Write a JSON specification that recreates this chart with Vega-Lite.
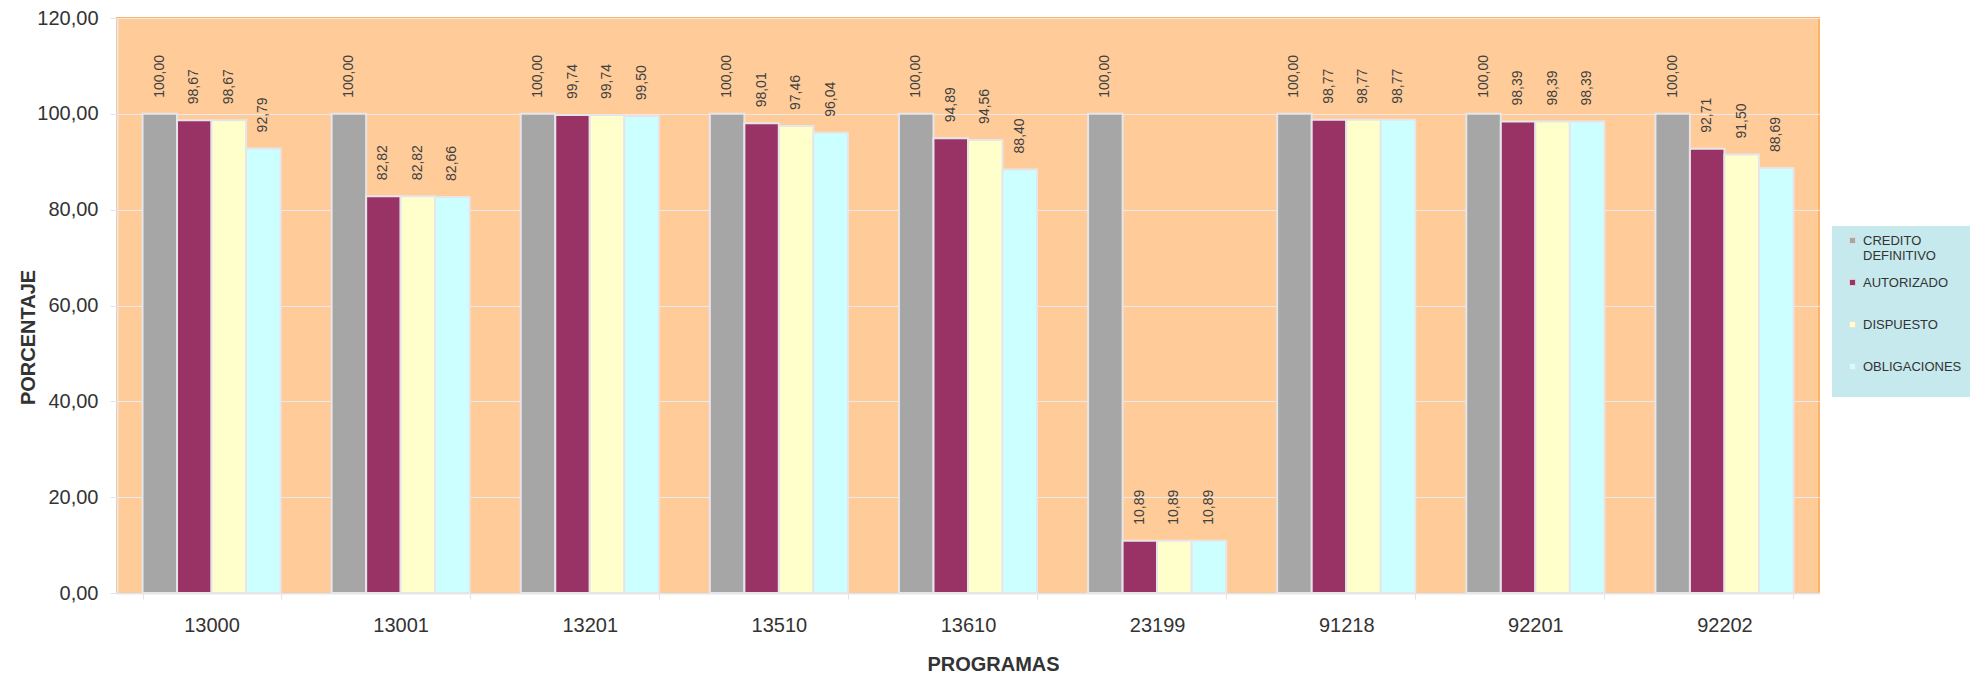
{
  "$schema": "https://vega.github.io/schema/vega-lite/v6.json",
  "width": 1702,
  "height": 575,
  "autosize": {"type": "none"},
  "padding": {"left": 117, "top": 18, "right": 167, "bottom": 89},
  "background": "white",
  "config": {
    "locale": {"number": {"decimal": ",", "thousands": ".", "grouping": [3], "currency": ["", " €"]}},
    "font": "Liberation Sans",
    "view": {"fill": "#ffcc99", "stroke": "#ffb366", "strokeWidth": 2}
  },
  "data": {
    "values": [
      {"programa": "13000", "serie": "CREDITO DEFINITIVO", "valor": 100.00},
      {"programa": "13000", "serie": "AUTORIZADO", "valor": 98.67},
      {"programa": "13000", "serie": "DISPUESTO", "valor": 98.67},
      {"programa": "13000", "serie": "OBLIGACIONES", "valor": 92.79},
      {"programa": "13001", "serie": "CREDITO DEFINITIVO", "valor": 100.00},
      {"programa": "13001", "serie": "AUTORIZADO", "valor": 82.82},
      {"programa": "13001", "serie": "DISPUESTO", "valor": 82.82},
      {"programa": "13001", "serie": "OBLIGACIONES", "valor": 82.66},
      {"programa": "13201", "serie": "CREDITO DEFINITIVO", "valor": 100.00},
      {"programa": "13201", "serie": "AUTORIZADO", "valor": 99.74},
      {"programa": "13201", "serie": "DISPUESTO", "valor": 99.74},
      {"programa": "13201", "serie": "OBLIGACIONES", "valor": 99.50},
      {"programa": "13510", "serie": "CREDITO DEFINITIVO", "valor": 100.00},
      {"programa": "13510", "serie": "AUTORIZADO", "valor": 98.01},
      {"programa": "13510", "serie": "DISPUESTO", "valor": 97.46},
      {"programa": "13510", "serie": "OBLIGACIONES", "valor": 96.04},
      {"programa": "13610", "serie": "CREDITO DEFINITIVO", "valor": 100.00},
      {"programa": "13610", "serie": "AUTORIZADO", "valor": 94.89},
      {"programa": "13610", "serie": "DISPUESTO", "valor": 94.56},
      {"programa": "13610", "serie": "OBLIGACIONES", "valor": 88.40},
      {"programa": "23199", "serie": "CREDITO DEFINITIVO", "valor": 100.00},
      {"programa": "23199", "serie": "AUTORIZADO", "valor": 10.89},
      {"programa": "23199", "serie": "DISPUESTO", "valor": 10.89},
      {"programa": "23199", "serie": "OBLIGACIONES", "valor": 10.89},
      {"programa": "91218", "serie": "CREDITO DEFINITIVO", "valor": 100.00},
      {"programa": "91218", "serie": "AUTORIZADO", "valor": 98.77},
      {"programa": "91218", "serie": "DISPUESTO", "valor": 98.77},
      {"programa": "91218", "serie": "OBLIGACIONES", "valor": 98.77},
      {"programa": "92201", "serie": "CREDITO DEFINITIVO", "valor": 100.00},
      {"programa": "92201", "serie": "AUTORIZADO", "valor": 98.39},
      {"programa": "92201", "serie": "DISPUESTO", "valor": 98.39},
      {"programa": "92201", "serie": "OBLIGACIONES", "valor": 98.39},
      {"programa": "92202", "serie": "CREDITO DEFINITIVO", "valor": 100.00},
      {"programa": "92202", "serie": "AUTORIZADO", "valor": 92.71},
      {"programa": "92202", "serie": "DISPUESTO", "valor": 91.50},
      {"programa": "92202", "serie": "OBLIGACIONES", "valor": 88.69}
    ]
  },
  "encoding": {
    "x": {
      "field": "programa",
      "type": "nominal",
      "sort": null,
      "scale": {"paddingInner": 0.27, "paddingOuter": 0.135},
      "axis": {
        "title": "PROGRAMAS",
        "labelAngle": 0,
        "labelFontSize": 20,
        "labelColor": "#333333",
        "labelPadding": 16,
        "tickBand": "extent",
        "tickSize": 6,
        "tickColor": "#e3e3e3",
        "domainColor": "#e6e6e6",
        "domainWidth": 2,
        "grid": false,
        "titleFontSize": 20,
        "titleFontWeight": "bold",
        "titleColor": "#333333",
        "titleX": 876,
        "titleY": 71,
        "titleBaseline": "middle"
      }
    },
    "xOffset": {
      "field": "serie",
      "type": "nominal",
      "sort": ["CREDITO DEFINITIVO", "AUTORIZADO", "DISPUESTO", "OBLIGACIONES"],
      "scale": {"paddingInner": 0, "paddingOuter": 0}
    },
    "y": {
      "field": "valor",
      "type": "quantitative",
      "scale": {"domain": [0, 120], "nice": false},
      "axis": {
        "title": "PORCENTAJE",
        "values": [0, 20, 40, 60, 80, 100, 120],
        "format": ".2f",
        "labelFontSize": 20,
        "labelColor": "#333333",
        "labelPadding": 12,
        "tickSize": 7,
        "tickColor": "#e3e3ea",
        "domainColor": "#e6e6ea",
        "domainWidth": 2,
        "gridColor": "#ebe9f0",
        "gridWidth": 1,
        "titleFontSize": 20,
        "titleFontWeight": "bold",
        "titleColor": "#333333",
        "titleX": -89,
        "titleY": 319,
        "titleBaseline": "middle"
      }
    }
  },
  "layer": [
    {
      "mark": {"type": "bar", "stroke": "#e6e6ea", "strokeWidth": 2},
      "encoding": {
        "color": {
          "field": "serie",
          "type": "nominal",
          "scale": {
            "domain": ["CREDITO DEFINITIVO", "AUTORIZADO", "DISPUESTO", "OBLIGACIONES"],
            "range": ["#a6a6a6", "#993366", "#ffffcc", "#ccffff"]
          },
          "legend": {
            "orient": "none",
            "legendX": 1715,
            "legendY": 208,
            "title": null,
            "fillColor": "#c6e9ee",
            "padding": 8,
            "symbolOffset": 6,
            "symbolType": "square",
            "symbolSize": 40,
            "symbolStrokeColor": "#e0e0e0",
            "symbolStrokeWidth": 1,
            "labelFontSize": 13,
            "labelColor": "#333333",
            "labelOffset": 4,
            "labelLimit": 200,
            "rowPadding": 13,
            "labelExpr": "datum.label == 'CREDITO DEFINITIVO' ? ['CREDITO', 'DEFINITIVO'] : [datum.label, '']"
          }
        }
      }
    },
    {
      "mark": {"type": "text", "angle": 270, "align": "left", "baseline": "middle", "dx": 16, "fontSize": 14, "color": "#404040"},
      "encoding": {
        "text": {"field": "valor", "type": "quantitative", "format": ".2f"}
      }
    }
  ]
}
